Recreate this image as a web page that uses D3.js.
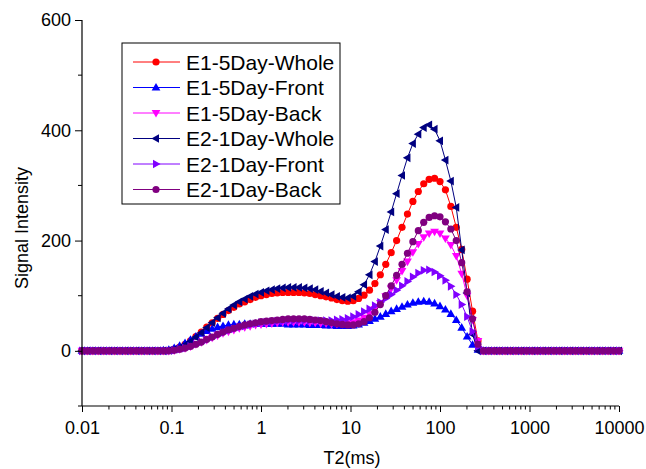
<!DOCTYPE html>
<html>
<head>
<meta charset="utf-8">
<script src="https://cdn.jsdelivr.net/npm/d3@7"></script>
<style>
  body { margin: 0; background: white; }
  svg { font-family: "Liberation Sans", Arial, sans-serif; display: block; }
</style>
</head>
<body>
<svg id="chart" width="646" height="469"></svg>
<script>
// T2 grid: 100 log spaced points from 0.01 to 10000 ms
const T2_MIN = 0.01;
const T2_MAX = 10000;
const N_POINTS = 100;

const SERIES_NAMES = [
  "E1-5Day-Whole", "E1-5Day-Front", "E1-5Day-Back",
  "E2-1Day-Whole", "E2-1Day-Front", "E2-1Day-Back"
];
const SERIES_COLORS = ["#ff0000", "#0000ff", "#ff00ff", "#000080", "#8000ff", "#800080"];
const SERIES_MARKERS = ["circle", "up", "down", "left", "right", "circle"];

const X_TICKS = [0.01, 0.1, 1, 10, 100, 1000, 10000];
const X_TICK_LABELS = ["0.01", "0.1", "1", "10", "100", "1000", "10000"];
const Y_TICKS = [0, 200, 400, 600];
const Y_MINOR_TICKS = [-100, 100, 300, 500];

// values for points 0..99 (zeros before rise / after the fall)
const Z16 = [0,0,0,0,0,0,0,0,0,0,0,0,0,0,0,0];
const e1Whole = Z16.concat([
  1, 3, 7, 12, 18, 26, 34, 43, 51, 59, 66, 73, 79, 85, 89, 93, 97, 100, 102, 104,
  105, 106, 106, 106, 106, 105, 104, 102, 100, 98, 96, 93, 91, 90, 91, 95, 101, 110, 122, 138,
  157, 178, 200, 224, 248, 271, 289, 303, 311, 313, 307, 292, 262, 224, 184, 130, 72, 18,
  0, 0, 0, 0, 0, 0, 0, 0, 0, 0, 0, 0, 0, 0, 0, 0, 0, 0, 0, 0, 0, 0, 0, 0, 0, 0, 0, 0]);
const e1Front = Z16.slice(0, 15).concat([
  1, 2, 5, 9, 14, 20, 26, 31, 36, 40, 43, 45, 47, 48, 48, 49, 49, 49, 49, 49,
  49, 49, 49, 48, 48, 48, 48, 47, 47, 47, 46, 46, 45, 45, 45, 46, 48, 51, 54, 58,
  62, 67, 72, 76, 80, 84, 87, 89, 90, 89, 86, 81, 75, 67, 56, 42, 26, 11, 2,
  0, 0, 0, 0, 0, 0, 0, 0, 0, 0, 0, 0, 0, 0, 0, 0, 0, 0, 0, 0, 0, 0, 0, 0, 0, 0, 0, 0]);
const e1Back = Z16.concat([
  0, 1, 3, 5, 8, 12, 16, 20, 24, 28, 32, 35, 38, 41, 43, 45, 47, 48, 49, 50,
  51, 52, 52, 52, 52, 52, 51, 51, 50, 50, 49, 49, 49, 50, 52, 55, 60, 67, 76, 87,
  99, 113, 128, 145, 162, 179, 194, 206, 213, 216, 213, 204, 192, 172, 140, 100, 56, 18,
  0, 0, 0, 0, 0, 0, 0, 0, 0, 0, 0, 0, 0, 0, 0, 0, 0, 0, 0, 0, 0, 0, 0, 0, 0, 0, 0, 0]);
const e2Whole = Z16.concat([
  1, 3, 6, 11, 17, 25, 33, 42, 51, 60, 68, 76, 83, 89, 94, 99, 103, 106, 109, 111,
  113, 114, 115, 115, 115, 114, 113, 111, 108, 105, 102, 99, 97, 96, 99, 107, 120, 138, 162, 190,
  220, 252, 285, 318, 350, 376, 393, 405, 410, 402, 381, 346, 308, 260, 183, 105, 30, 0,
  0, 0, 0, 0, 0, 0, 0, 0, 0, 0, 0, 0, 0, 0, 0, 0, 0, 0, 0, 0, 0, 0, 0, 0, 0, 0, 0, 0]);
const e2Front = Z16.concat([
  0, 1, 3, 5, 8, 12, 16, 20, 25, 29, 33, 37, 40, 43, 45, 47, 49, 51, 52, 53,
  54, 54, 55, 55, 55, 55, 55, 55, 55, 55, 55, 56, 57, 59, 62, 66, 71, 76, 82, 88,
  95, 102, 110, 118, 126, 134, 141, 146, 147, 143, 136, 128, 117, 102, 84, 62, 35, 8,
  0, 0, 0, 0, 0, 0, 0, 0, 0, 0, 0, 0, 0, 0, 0, 0, 0, 0, 0, 0, 0, 0, 0, 0, 0, 0, 0, 0]);
const e2Back = Z16.concat([
  0, 1, 3, 5, 8, 12, 16, 21, 25, 30, 34, 38, 41, 44, 47, 49, 51, 53, 54, 55,
  56, 57, 58, 58, 58, 58, 57, 56, 55, 53, 51, 49, 48, 47, 47, 49, 53, 60, 70, 84,
  100, 118, 137, 157, 177, 198, 218, 233, 242, 245, 243, 234, 221, 200, 160, 107, 58, 12,
  0, 0, 0, 0, 0, 0, 0, 0, 0, 0, 0, 0, 0, 0, 0, 0, 0, 0, 0, 0, 0, 0, 0, 0, 0, 0, 0, 0]);

const SERIES_VALUES = [e1Whole, e1Front, e1Back, e2Whole, e2Front, e2Back];

function t2Grid() {
  var xs = [];
  const step = Math.log10(T2_MAX / T2_MIN) / (N_POINTS - 1);
  for (var i = 0; i < N_POINTS; i++) {
    xs.push(T2_MIN * Math.pow(10, i * step));
  }
  return xs;
}

// marker path centred on 0,0
function markerPath(kind, s) {
  if (kind == "up") return `M0,${-s}L${s * 0.95},${s * 0.65}L${-s * 0.95},${s * 0.65}Z`;
  if (kind == "down") return `M0,${s}L${s * 0.95},${-s * 0.65}L${-s * 0.95},${-s * 0.65}Z`;
  if (kind == "left") return `M${-s},0L${s * 0.65},${-s * 0.95}L${s * 0.65},${s * 0.95}Z`;
  if (kind == "right") return `M${s},0L${-s * 0.65},${-s * 0.95}L${-s * 0.65},${s * 0.95}Z`;
  return null;
}

function drawMarker(g, kind, color, x, y) {
  if (kind == "circle") {
    g.append("circle").attr("cx", x).attr("cy", y).attr("r", 3.6).attr("fill", color);
  } else {
    g.append("path").attr("transform", `translate(${x},${y})`)
      .attr("d", markerPath(kind, 4.6)).attr("fill", color);
  }
}

const svg = d3.select("#chart");
const plotLeft = 82, plotRight = 619, plotTop = 20, plotBottom = 406;

const xScale = d3.scaleLog().domain([T2_MIN, T2_MAX]).range([plotLeft, plotRight]);
const yScale = d3.scaleLinear().domain([-100, 600]).range([plotBottom, plotTop]);

const xs = t2Grid();

// series
SERIES_VALUES.forEach(function(vals, k) {
  const pts = xs.map((x, i) => ({x: x, y: vals[i]}));
  const g = svg.append("g");
  g.append("path")
    .datum(pts)
    .attr("fill", "none")
    .attr("stroke", SERIES_COLORS[k])
    .attr("stroke-width", 1)
    .attr("d", d3.line().x(d => xScale(d.x)).y(d => yScale(d.y)));
  for (const p of pts) {
    drawMarker(g, SERIES_MARKERS[k], SERIES_COLORS[k], xScale(p.x), yScale(p.y));
  }
});

// axes
const xAxis = svg.append("g").attr("transform", `translate(0,${plotBottom})`)
  .call(d3.axisBottom(xScale).tickValues(X_TICKS).tickFormat((d, i) => X_TICK_LABELS[i])
    .tickSize(6).tickPadding(9));
var minorX = [];
for (var d = 0.01; d < 10000; d *= 10) {
  for (var m = 2; m <= 9; m++) minorX.push(d * m);
}
xAxis.selectAll(".minor").data(minorX).enter().append("line")
  .attr("x1", v => xScale(v)).attr("x2", v => xScale(v))
  .attr("y1", 0).attr("y2", 3.5).attr("stroke", "black");

const yAxis = svg.append("g").attr("transform", `translate(${plotLeft},0)`)
  .call(d3.axisLeft(yScale).tickValues(Y_TICKS).tickSize(7).tickPadding(4));
yAxis.selectAll(".minor").data(Y_MINOR_TICKS).enter().append("line")
  .attr("x1", 0).attr("x2", -4)
  .attr("y1", v => yScale(v)).attr("y2", v => yScale(v)).attr("stroke", "black");

for (const ax of [xAxis, yAxis]) {
  ax.select(".domain").attr("stroke", "black").attr("stroke-width", 1.2);
  ax.selectAll(".tick line").attr("stroke", "black");
  ax.selectAll(".tick text").attr("fill", "black").style("font-size", "18px")
    .style("font-family", "'Liberation Sans', Arial, sans-serif");
}
yAxis.select(".domain").attr("d", `M0,${plotBottom}V${plotTop}`);
xAxis.select(".domain").attr("d", `M${plotLeft},0H${plotRight}`);

// axis titles
svg.append("text").attr("x", 352).attr("y", 464).attr("text-anchor", "middle")
  .style("font-size", "18px").text("T2(ms)");
svg.append("text").attr("transform", "translate(28,228) rotate(-90)")
  .attr("text-anchor", "middle").style("font-size", "18px").text("Signal Intensity");

// legend
const legend = svg.append("g");
legend.append("rect").attr("x", 122).attr("y", 43).attr("width", 218).attr("height", 161)
  .attr("fill", "white").attr("stroke", "black").attr("stroke-width", 1);
SERIES_NAMES.forEach(function(name, k) {
  const y = 62 + k * 25.5;
  legend.append("line").attr("x1", 133).attr("x2", 180).attr("y1", y).attr("y2", y)
    .attr("stroke", SERIES_COLORS[k]).attr("stroke-width", 1);
  drawMarker(legend, SERIES_MARKERS[k], SERIES_COLORS[k], 156, y);
  legend.append("text").attr("x", 186).attr("y", y).attr("dy", "0.36em")
    .style("font-size", "21px").text(name);
});
</script>
</body>
</html>
